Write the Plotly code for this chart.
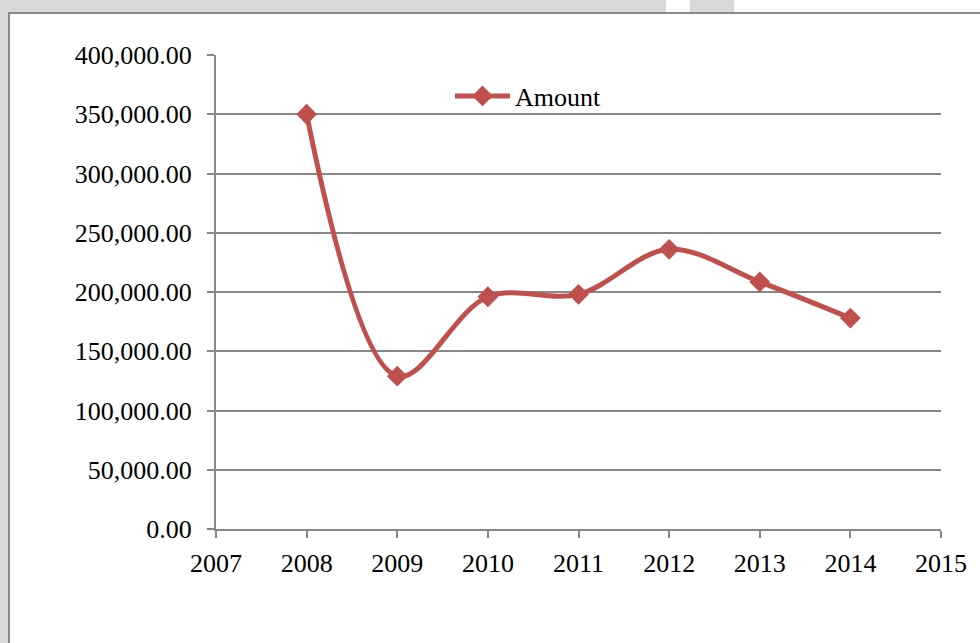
import plotly.graph_objects as go

years = [2008, 2009, 2010, 2011, 2012, 2013, 2014]
amount = [350000, 129000, 196000, 198000, 236000, 208500, 178000]
x_ticks = [2007, 2008, 2009, 2010, 2011, 2012, 2013, 2014, 2015]
y_ticks = [0, 50000, 100000, 150000, 200000, 250000, 300000, 350000, 400000]
y_labels = [f"{v:,.2f}" for v in y_ticks]

W, H = 980, 643
RED = "#C0504D"
GRID = "#878787"
FONT = "Liberation Serif, Times New Roman, serif"

fig = go.Figure()
fig.add_trace(go.Scatter(
    x=years, y=amount, name="Amount", mode="lines+markers",
    line=dict(color=RED, width=5, shape="spline", smoothing=1.0),
    marker=dict(symbol="diamond", size=16, color=RED),
))

shapes = [
    dict(type="rect", xref="paper", yref="paper", x0=666/W, x1=690/W, y0=(H-12)/H, y1=1.0,
         fillcolor="white", line_width=0, layer="below"),
    dict(type="rect", xref="paper", yref="paper", x0=734/W, x1=1.0, y0=(H-12)/H, y1=1.0,
         fillcolor="white", line_width=0, layer="below"),
    dict(type="rect", xref="paper", yref="paper", x0=9/W, x1=1.02, y0=-0.02, y1=(H-13)/H,
         fillcolor="white", line=dict(color="#888888", width=2), layer="below"),
]

fig.update_layout(
    width=W, height=H,
    margin=dict(l=0, r=0, t=0, b=0, pad=0, autoexpand=False),
    paper_bgcolor="#d9d9d9",
    plot_bgcolor="rgba(0,0,0,0)",
    font=dict(family=FONT, size=26, color="black"),
    shapes=shapes,
    showlegend=True,
    legend=dict(x=450/W, y=(H-96)/H, xanchor="left", yanchor="middle",
                bgcolor="rgba(0,0,0,0)", font=dict(family=FONT, size=26),
                itemwidth=55),
    xaxis=dict(
        domain=[216/W, 941/W], range=[2007, 2015], automargin=False,
        tickmode="array", tickvals=x_ticks, ticktext=[str(v) for v in x_ticks],
        showgrid=False, zeroline=False,
        showline=True, linecolor=GRID, linewidth=2,
        ticks="outside", ticklen=7, tickwidth=2, tickcolor=GRID,
        ticklabelstandoff=3,
    ),
    yaxis=dict(
        domain=[(H-529)/H, (H-55)/H], range=[0, 400000], automargin=False,
        tickmode="array", tickvals=y_ticks, ticktext=y_labels,
        showgrid=True, gridcolor=GRID, gridwidth=2, zeroline=False,
        showline=True, linecolor=GRID, linewidth=2,
        ticks="outside", ticklen=7, tickwidth=2, tickcolor=GRID,
        ticklabelstandoff=10,
    ),
)
fig.write_html("out.html", config={"displayModeBar": False},
               post_script="document.body.style.margin='0';document.body.style.overflow='hidden';")
